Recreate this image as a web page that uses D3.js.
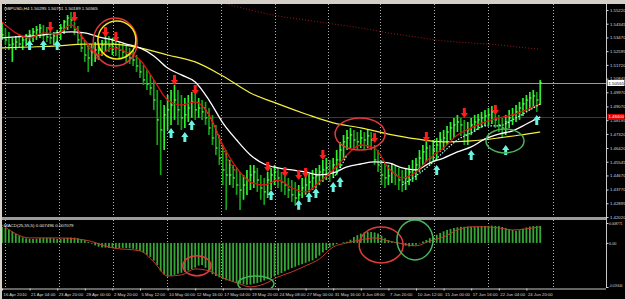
<!DOCTYPE html>
<html>
<head>
<meta charset="utf-8">
<script src="https://cdn.jsdelivr.net/npm/d3@7"></script>
<style>
  body { margin: 0; background: #000; }
  text { font-family: "Liberation Sans", Arial, sans-serif; }
</style>
</head>
<body>
<div class="chart"></div>
<script>
// ---- data (GBPUSD H4, one entry per two H4 bars) ----
var timeLabels = ["16 Apr 2010", "21 Apr 04:00", "23 Apr 20:00", "28 Apr 00:00", "2 May 20:00",
  "5 May 12:00", "10 May 00:00", "12 May 16:00", "17 May 04:00", "19 May 20:00", "24 May 08:00",
  "27 May 00:00", "31 May 16:00", "3 Jun 08:00", "7 Jun 20:00", "10 Jun 12:00", "15 Jun 00:00",
  "17 Jun 16:00", "22 Jun 04:00", "24 Jun 20:00"];
var labelBars = [0, 8, 16, 24, 32, 40, 48, 56, 64, 72, 80, 88, 96, 104, 112, 120, 128, 136, 144, 152];

var highs = [
  1.5446, 1.5407, 1.5382, 1.5344, 1.5356, 1.5363, 1.5356, 1.5369, 1.5395, 1.5407,
  1.5420, 1.5433, 1.5427, 1.5414, 1.5395, 1.5382, 1.5395, 1.5433, 1.5458, 1.5490,
  1.5509, 1.5446, 1.5420, 1.5382, 1.5331, 1.5299, 1.5299, 1.5318, 1.5305, 1.5331,
  1.5363, 1.5356, 1.5344, 1.5331, 1.5318, 1.5305, 1.5293, 1.5280, 1.5267, 1.5235,
  1.5203, 1.5171, 1.5140, 1.5108, 1.5076, 1.5012, 1.4948, 1.4916, 1.4980, 1.5012,
  1.5044, 1.5012, 1.4980, 1.4961, 1.4980, 1.4999, 1.4987, 1.4961, 1.4948, 1.4936,
  1.4897, 1.4853, 1.4789, 1.4725, 1.4661, 1.4629, 1.4566, 1.4534, 1.4515, 1.4489,
  1.4470, 1.4502, 1.4534, 1.4534, 1.4515, 1.4470, 1.4451, 1.4489, 1.4515, 1.4534,
  1.4515, 1.4489, 1.4470, 1.4451, 1.4438, 1.4425, 1.4406, 1.4451, 1.4464, 1.4476,
  1.4502, 1.4515, 1.4534, 1.4566, 1.4578, 1.4566, 1.4578, 1.4629, 1.4681, 1.4725,
  1.4757, 1.4770, 1.4757, 1.4744, 1.4757, 1.4744, 1.4757, 1.4744, 1.4661, 1.4629,
  1.4566, 1.4553, 1.4534, 1.4547, 1.4534, 1.4515, 1.4502, 1.4515, 1.4534, 1.4566,
  1.4578, 1.4629, 1.4661, 1.4693, 1.4661, 1.4693, 1.4706, 1.4744, 1.4757, 1.4783,
  1.4808, 1.4834, 1.4853, 1.4834, 1.4821, 1.4808, 1.4834, 1.4853, 1.4859, 1.4872,
  1.4885, 1.4897, 1.4910, 1.4885, 1.4853, 1.4834, 1.4853, 1.4885, 1.4897, 1.4916,
  1.4936, 1.4961, 1.4980, 1.4999, 1.5012, 1.4999, 1.5076];
var lows = [
  1.5331, 1.5299, 1.5267, 1.5191, 1.5267, 1.5280, 1.5267, 1.5293, 1.5305, 1.5318,
  1.5331, 1.5344, 1.5331, 1.5318, 1.5305, 1.5299, 1.5312, 1.5331, 1.5369, 1.5395,
  1.5407, 1.5363, 1.5299, 1.5254, 1.5191, 1.5127, 1.5165, 1.5191, 1.5203, 1.5229,
  1.5254, 1.5254, 1.5235, 1.5229, 1.5216, 1.5216, 1.5191, 1.5178, 1.5165, 1.5127,
  1.5089, 1.5044, 1.5012, 1.4980, 1.4885, 1.4661, 1.4470, 1.4629, 1.4757, 1.4789,
  1.4821, 1.4789, 1.4757, 1.4770, 1.4808, 1.4834, 1.4821, 1.4834, 1.4821, 1.4789,
  1.4725, 1.4661, 1.4598, 1.4534, 1.4406, 1.4247, 1.4406, 1.4387, 1.4343, 1.4247,
  1.4312, 1.4343, 1.4374, 1.4387, 1.4362, 1.4312, 1.4279, 1.4323, 1.4374, 1.4406,
  1.4387, 1.4362, 1.4343, 1.4323, 1.4298, 1.4273, 1.4312, 1.4323, 1.4343, 1.4362,
  1.4374, 1.4387, 1.4406, 1.4425, 1.4438, 1.4425, 1.4451, 1.4470, 1.4515, 1.4566,
  1.4629, 1.4642, 1.4629, 1.4629, 1.4642, 1.4629, 1.4642, 1.4629, 1.4534, 1.4489,
  1.4406, 1.4387, 1.4406, 1.4419, 1.4406, 1.4374, 1.4362, 1.4374, 1.4406, 1.4425,
  1.4438, 1.4489, 1.4534, 1.4553, 1.4534, 1.4553, 1.4566, 1.4617, 1.4629, 1.4661,
  1.4693, 1.4706, 1.4744, 1.4719, 1.4661, 1.4661, 1.4725, 1.4744, 1.4757, 1.4770,
  1.4783, 1.4789, 1.4795, 1.4770, 1.4744, 1.4706, 1.4725, 1.4770, 1.4789, 1.4808,
  1.4821, 1.4846, 1.4872, 1.4885, 1.4897, 1.4872, 1.4916];
var closes = [
  1.5363, 1.5331, 1.5299, 1.5305, 1.5318, 1.5305, 1.5331, 1.5344, 1.5363, 1.5382,
  1.5395, 1.5407, 1.5363, 1.5350, 1.5344, 1.5356, 1.5369, 1.5407, 1.5446, 1.5471,
  1.5458, 1.5395, 1.5331, 1.5280, 1.5235, 1.5216, 1.5254, 1.5267, 1.5267, 1.5299,
  1.5318, 1.5293, 1.5305, 1.5280, 1.5267, 1.5254, 1.5235, 1.5216, 1.5203, 1.5165,
  1.5127, 1.5076, 1.5050, 1.5025, 1.4948, 1.4821, 1.4757, 1.4853, 1.4885, 1.4916,
  1.4948, 1.4885, 1.4834, 1.4853, 1.4897, 1.4936, 1.4885, 1.4897, 1.4872, 1.4834,
  1.4770, 1.4706, 1.4642, 1.4578, 1.4502, 1.4470, 1.4470, 1.4451, 1.4406, 1.4374,
  1.4406, 1.4438, 1.4470, 1.4489, 1.4438, 1.4387, 1.4362, 1.4438, 1.4470, 1.4489,
  1.4451, 1.4425, 1.4406, 1.4374, 1.4343, 1.4323, 1.4343, 1.4387, 1.4406, 1.4425,
  1.4451, 1.4464, 1.4489, 1.4502, 1.4515, 1.4489, 1.4534, 1.4566, 1.4629, 1.4681,
  1.4706, 1.4725, 1.4693, 1.4681, 1.4706, 1.4693, 1.4719, 1.4693, 1.4566, 1.4534,
  1.4470, 1.4451, 1.4464, 1.4489, 1.4470, 1.4438, 1.4425, 1.4451, 1.4489, 1.4502,
  1.4534, 1.4578, 1.4617, 1.4642, 1.4578, 1.4629, 1.4661, 1.4693, 1.4706, 1.4744,
  1.4770, 1.4789, 1.4808, 1.4789, 1.4725, 1.4757, 1.4789, 1.4808, 1.4821, 1.4834,
  1.4846, 1.4853, 1.4872, 1.4821, 1.4789, 1.4770, 1.4808, 1.4834, 1.4853, 1.4872,
  1.4897, 1.4923, 1.4948, 1.4961, 1.4974, 1.4948, 1.5057];

// moving averages, read every 4 bars
var maBars = [0, 4, 8, 12, 16, 20, 24, 28, 32, 36, 40, 44, 48, 52, 56, 60, 64, 68, 72, 76,
  80, 84, 88, 92, 96, 100, 104, 108, 112, 116, 120, 124, 128, 132, 136, 140, 144, 148, 152, 156];
var whiteMA = [1.5344, 1.5350, 1.5356, 1.5363, 1.5376, 1.5382, 1.5376, 1.5350, 1.5331, 1.5305,
  1.5280, 1.5229, 1.5152, 1.5108, 1.5063, 1.4948, 1.4802, 1.4693, 1.4598, 1.4540,
  1.4515, 1.4502, 1.4489, 1.4470, 1.4483, 1.4521, 1.4540, 1.4553, 1.4547, 1.4515,
  1.4502, 1.4547, 1.4578, 1.4617, 1.4649, 1.4700, 1.4731, 1.4751, 1.4795, 1.4840];
var redMA = [1.5446, 1.5376, 1.5344, 1.5376, 1.5369, 1.5427, 1.5331, 1.5235, 1.5280, 1.5254,
  1.5203, 1.5076, 1.4948, 1.4916, 1.4936, 1.4853, 1.4661, 1.4515, 1.4425, 1.4406,
  1.4438, 1.4387, 1.4362, 1.4425, 1.4502, 1.4598, 1.4661, 1.4642, 1.4515, 1.4451,
  1.4489, 1.4578, 1.4642, 1.4725, 1.4770, 1.4808, 1.4834, 1.4853, 1.4885, 1.4923];

var yellowBars = [0, 8, 16, 24, 32, 40, 48, 56, 64, 72, 80, 88, 96, 104, 112, 120, 128, 136, 144, 152, 156];
var yellowMA = [1.5280, 1.5286, 1.5293, 1.5305, 1.5305, 1.5280, 1.5235, 1.5191, 1.5101, 1.4993,
  1.4923, 1.4859, 1.4802, 1.4770, 1.4731, 1.4700, 1.4681, 1.4687, 1.4706, 1.4731, 1.4744];

var longBars = [64, 72, 80, 88, 96, 104, 112, 120, 128, 136, 144, 152, 156];
var longMA = [1.5567, 1.5522, 1.5484, 1.5458, 1.5433, 1.5407, 1.5376, 1.5350, 1.5325, 1.5312,
  1.5299, 1.5280, 1.5273];

// dotted trailing-stop traces (null = no trace there)
var redTrailBars = [22, 24, 26, 28, 30, 58, 60, 62, 64, 66, 68];
var redTrail = [1.5395, 1.5318, 1.5254, 1.5203, null, 1.4916, 1.4853, 1.4757, 1.4642, 1.4547, 1.4489];
var cyanTrailBars = [96, 98, 100, 102, 116, 120, 124, 128, 132, 136, 140, 144, 148, 152, 156];
var cyanTrail = [1.4451, 1.4515, 1.4598, null, 1.4406, 1.4464, 1.4534, 1.4617, 1.4693, 1.4738,
  1.4783, 1.4783, 1.4821, 1.4872, 1.4923];

// signal arrows
var sellBars = [14, 21, 30, 33, 50, 56, 77, 82, 86, 88, 93, 108, 123, 134, 143];
var sellPrices = [1.5446, 1.5509, 1.5414, 1.5382, 1.5108, 1.5044, 1.4553, 1.4521, 1.4502, 1.4515,
  1.4629, 1.4738, 1.4744, 1.4897, 1.4916];
var buyBars = [8, 12, 16, 49, 53, 55, 78, 86, 89, 91, 96, 98, 126, 136, 146, 155];
var buyPrices = [1.5331, 1.5331, 1.5331, 1.4770, 1.4744, 1.4821, 1.4374, 1.4312, 1.4362, 1.4387,
  1.4425, 1.4457, 1.4534, 1.4629, 1.4661, 1.4853];

// horizontal levels
var bidPrice = 1.50565;
var levelPrice = 1.48400;
var priceTicks = [1.55220, 1.54345, 1.53470, 1.52595, 1.51720, 1.50845, 1.49970, 1.49070,
  1.48195, 1.47320, 1.46420, 1.45545, 1.44670, 1.43770, 1.42895, 1.42020];
var gridBars = [0.9, 16.5, 32.2, 47.8, 63.5, 79.1, 94.5, 109.6, 125.2, 140.9, 159.7];

// MACD main (histogram), one per bar
var macdMain = [
  0.0071, 0.0066, 0.0059, 0.0050, 0.0040, 0.0031, 0.0024, 0.0020, 0.0018, 0.0017,
  0.0018, 0.0020, 0.0021, 0.0021, 0.0022, 0.0020, 0.0018, 0.0018, 0.0020, 0.0023,
  0.0024, 0.0023, 0.0021, 0.0017, 0.0012, 0.0004, -0.0004, -0.0011, -0.0017, -0.0020,
  -0.0021, -0.0022, -0.0022, -0.0023, -0.0023, -0.0022, -0.0023, -0.0024, -0.0026, -0.0030,
  -0.0036, -0.0043, -0.0052, -0.0062, -0.0078, -0.0098, -0.0125, -0.0140, -0.0148, -0.0146,
  -0.0141, -0.0136, -0.0132, -0.0128, -0.0122, -0.0115, -0.0109, -0.0100, -0.0098, -0.0110,
  -0.0126, -0.0138, -0.0146, -0.0152, -0.0160, -0.0165, -0.0168, -0.0171, -0.0176, -0.0180,
  -0.0183, -0.0185, -0.0184, -0.0180, -0.0177, -0.0172, -0.0166, -0.0160, -0.0155, -0.0148,
  -0.0140, -0.0133, -0.0125, -0.0118, -0.0111, -0.0105, -0.0099, -0.0094, -0.0088, -0.0082,
  -0.0077, -0.0068, -0.0056, -0.0042, -0.0032, -0.0020, -0.0012, -0.0005, 0.0000, 0.0003,
  0.0005, 0.0014, 0.0026, 0.0034, 0.0041, 0.0046, 0.0049, 0.0048, 0.0046, 0.0041,
  0.0032, 0.0020, 0.0012, 0.0006, 0.0002, -0.0001, -0.0006, -0.0012, -0.0016, -0.0014,
  -0.0008, -0.0002, 0.0006, 0.0013, 0.0021, 0.0028, 0.0036, 0.0044, 0.0051, 0.0057,
  0.0062, 0.0066, 0.0069, 0.0071, 0.0071, 0.0072, 0.0071, 0.0071, 0.0072, 0.0073,
  0.0074, 0.0075, 0.0076, 0.0075, 0.0074, 0.0070, 0.0066, 0.0061, 0.0057, 0.0054,
  0.0056, 0.0062, 0.0068, 0.0072, 0.0074, 0.0075, 0.0075];
var signalBars = [0, 8, 16, 24, 32, 40, 44, 48, 52, 56, 60, 64, 68, 72, 76, 80, 84, 88, 92, 96,
  100, 104, 108, 112, 116, 120, 124, 128, 132, 136, 140, 144, 148, 152, 156];
var macdSignal = [0.0079, 0.0022, 0.0022, 0.0013, -0.0022, -0.0035, -0.0084, -0.0146, -0.0141, -0.0115,
  -0.0123, -0.0154, -0.0176, -0.0194, -0.0181, -0.0150, -0.0128, -0.0101, -0.0071, -0.0018,
  0.0000, 0.0013, 0.0022, 0.0009, -0.0004, -0.0013, 0.0009, 0.0026, 0.0057, 0.0071,
  0.0071, 0.0066, 0.0057, 0.0062, 0.0071];
var macdTicks = [0.008771, 0, -0.019444];
var macdTickText = ["0.008771", "0.00", "-0.019444"];

// hand-drawn marks on the chart (centres in bar / value units)
var priceMarkBars = [32.8, 33.3, 103.8, 145.8];
var priceMarkPrices = [1.5318, 1.5331, 1.4731, 1.4687];
var macdMarkBars = [56.5, 73.6, 109.9, 119.7];
var macdMarkValues = [-0.0101, -0.0181, -0.0009, 0.0013];

// ---- drawing ----
var svgWidth = 625;
var svgHeight = 299;

var svg = d3.select(".chart")
  .append("svg")
  .attr("width", svgWidth)
  .attr("height", svgHeight)
  .style("display", "block")
  .style("background", "#000");

// window frame and panel splitter
svg.append("rect").attr("x", 0).attr("y", 0).attr("width", svgWidth).attr("height", 4).attr("fill", "#d4d0c8");
svg.append("rect").attr("x", 0).attr("y", 0).attr("width", 2).attr("height", svgHeight).attr("fill", "#d4d0c8");
svg.append("rect").attr("x", 2).attr("y", 217).attr("width", 604).attr("height", 3).attr("fill", "#9c9c9c");

// scales
var xScale = d3.scaleLinear().domain([0, 156]).range([2, 540.2]);
var yScale = d3.scaleLinear().domain([1.42020, 1.55220]).range([217, 10]);
var mScale = d3.scaleLinear().domain([-0.019444, 0.008771]).range([287, 223]);

var defs = svg.append("defs");
defs.append("clipPath").attr("id", "mainClip")
  .append("rect").attr("x", 2).attr("y", 4).attr("width", 604).attr("height", 212);
defs.append("clipPath").attr("id", "macdClip")
  .append("rect").attr("x", 2).attr("y", 220).attr("width", 604).attr("height", 68);

var mainG = svg.append("g").attr("clip-path", "url(#mainClip)");
var macdG = svg.append("g").attr("clip-path", "url(#macdClip)");

// dotted vertical grid
[[mainG, 4, 216], [macdG, 220, 288]].forEach(function (p) {
  p[0].selectAll(".vgrid").data(gridBars).enter().append("line")
    .attr("x1", d => Math.round(xScale(d)) + 0.5)
    .attr("x2", d => Math.round(xScale(d)) + 0.5)
    .attr("y1", p[1]).attr("y2", p[2])
    .attr("stroke", "#b0b0b0").attr("stroke-width", 1)
    .attr("stroke-dasharray", "1,2");
});

// bid line and level line
mainG.append("line")
  .attr("x1", 2).attr("x2", 606)
  .attr("y1", Math.round(yScale(bidPrice)) + 0.5).attr("y2", Math.round(yScale(bidPrice)) + 0.5)
  .attr("stroke", "#9a9a9a").attr("stroke-width", 1);
mainG.append("line")
  .attr("x1", 2).attr("x2", 606)
  .attr("y1", Math.round(yScale(levelPrice)) + 0.5).attr("y2", Math.round(yScale(levelPrice)) + 0.5)
  .attr("stroke", "#9a1010").attr("stroke-width", 1);

// slow lines under the bars
function lineOf(bars, vals, scale) {
  return d3.line()
    .defined(d => d[1] !== null)
    .x(d => xScale(d[0]))
    .y(d => scale(d[1]))
    .curve(d3.curveMonotoneX)(d3.zip(bars, vals));
}

mainG.append("path")
  .attr("d", lineOf(longBars, longMA, yScale))
  .attr("fill", "none").attr("stroke", "#a01818").attr("stroke-width", 1)
  .attr("stroke-dasharray", "1,2");

// price bars
var barGroup = mainG.selectAll(".bar").data(closes).enter().append("g");
barGroup.append("line")
  .attr("x1", (d, i) => xScale(i)).attr("x2", (d, i) => xScale(i))
  .attr("y1", (d, i) => yScale(highs[i])).attr("y2", (d, i) => yScale(lows[i]))
  .attr("stroke", (d, i) => (i > 0 && d < closes[i - 1]) ? "#16a316" : "#2cf02c")
  .attr("stroke-width", 1.7);
barGroup.append("line")
  .attr("x1", (d, i) => xScale(i)).attr("x2", (d, i) => xScale(i) + 1.8)
  .attr("y1", d => yScale(d)).attr("y2", d => yScale(d))
  .attr("stroke", "#9cff9c").attr("stroke-width", 1);

// moving averages
mainG.append("path")
  .attr("d", lineOf(yellowBars, yellowMA, yScale))
  .attr("fill", "none").attr("stroke", "#f4f040").attr("stroke-width", 1.2);
mainG.append("path")
  .attr("d", lineOf(maBars, whiteMA, yScale))
  .attr("fill", "none").attr("stroke", "#ffffff").attr("stroke-width", 1.3);
mainG.append("path")
  .attr("d", lineOf(maBars, redMA, yScale))
  .attr("fill", "none").attr("stroke", "#e01010").attr("stroke-width", 1.3);

// trailing traces
mainG.append("path")
  .attr("d", lineOf(redTrailBars, redTrail, yScale))
  .attr("fill", "none").attr("stroke", "#ff3030").attr("stroke-width", 1.3)
  .attr("stroke-dasharray", "1.5,1.5");
mainG.append("path")
  .attr("d", lineOf(cyanTrailBars, cyanTrail, yScale))
  .attr("fill", "none").attr("stroke", "#a8fff2").attr("stroke-width", 1.2)
  .attr("stroke-dasharray", "1.5,1.5");

// arrows
mainG.selectAll(".sell").data(sellBars).enter().append("path")
  .attr("transform", (d, i) => `translate(${xScale(d)}, ${yScale(sellPrices[i])})`)
  .attr("d", "M-1.5,0 L1.5,0 L1.5,5 L3.6,5 L0,10 L-3.6,5 L-1.5,5 Z")
  .attr("fill", "#ff1c1c");
mainG.selectAll(".buy").data(buyBars).enter().append("path")
  .attr("transform", (d, i) => `translate(${xScale(d)}, ${yScale(buyPrices[i])})`)
  .attr("d", "M0,0 L3.6,5 L1.5,5 L1.5,10 L-1.5,10 L-1.5,5 L-3.6,5 Z")
  .attr("fill", "#6cf2e0");

// hand-drawn marks on the price panel
var markShape = [[22, 24, "#e03a3a"], [19, 19, "#f2e61e"], [25, 16, "#e03a3a"], [19, 12, "#49b35a"]];
mainG.selectAll(".mark").data(priceMarkBars).enter().append("ellipse")
  .attr("cx", d => xScale(d))
  .attr("cy", (d, i) => yScale(priceMarkPrices[i]))
  .attr("rx", (d, i) => markShape[i][0])
  .attr("ry", (d, i) => markShape[i][1])
  .attr("fill", "none")
  .attr("stroke", (d, i) => markShape[i][2])
  .attr("stroke-width", 1.5);

// MACD histogram + signal
macdG.selectAll(".hist").data(macdMain).enter().append("line")
  .attr("x1", (d, i) => xScale(i)).attr("x2", (d, i) => xScale(i))
  .attr("y1", mScale(0)).attr("y2", d => mScale(d))
  .attr("stroke", "#36a836").attr("stroke-width", 1.8);
macdG.append("path")
  .attr("d", lineOf(signalBars, macdSignal, mScale))
  .attr("fill", "none").attr("stroke", "#c23a2a").attr("stroke-width", 1);

var macdShape = [[14, 10, "#e03a3a"], [18, 8, "#49b35a"], [22, 18, "#e03a3a"], [18, 20, "#49b35a"]];
macdG.selectAll(".mmark").data(macdMarkBars).enter().append("ellipse")
  .attr("cx", d => xScale(d))
  .attr("cy", (d, i) => mScale(macdMarkValues[i]))
  .attr("rx", (d, i) => macdShape[i][0])
  .attr("ry", (d, i) => macdShape[i][1])
  .attr("fill", "none")
  .attr("stroke", (d, i) => macdShape[i][2])
  .attr("stroke-width", 1.5);

// right-hand price axis
var axisColor = "#d8d8d8";
svg.append("line").attr("x1", 606.5).attr("x2", 606.5).attr("y1", 4).attr("y2", 288)
  .attr("stroke", "#c8c8c8").attr("stroke-width", 1);

var yAxis = d3.axisRight(yScale).tickValues(priceTicks).tickSize(2).tickSizeOuter(0)
  .tickFormat(d3.format(".5f"));
var yAxisG = svg.append("g").attr("transform", "translate(606.5, 0)").call(yAxis);
yAxisG.select(".domain").remove();
yAxisG.selectAll("line").attr("stroke", axisColor);
yAxisG.selectAll("text").attr("x", 3.5).attr("fill", axisColor)
  .style("font-size", "4.3px");

var mAxis = d3.axisRight(mScale).tickValues(macdTicks).tickSize(2).tickSizeOuter(0)
  .tickFormat((d, i) => macdTickText[i]);
var mAxisG = svg.append("g").attr("transform", "translate(606.5, 0)").call(mAxis);
mAxisG.select(".domain").remove();
mAxisG.selectAll("line").attr("stroke", axisColor);
mAxisG.selectAll("text").attr("x", 2.5).attr("fill", axisColor)
  .style("font-size", "3.8px")
  .attr("dy", (d, i) => i === 2 ? "-0.2em" : "0.32em")
  .attr("textLength", (d, i) => macdTickText[i].length > 5 ? 13.5 : null)
  .attr("lengthAdjust", "spacingAndGlyphs");

// price boxes on the axis
var boxes = [[bidPrice, "#ffffff", "#000000"], [levelPrice, "#e00000", "#ffffff"]];
boxes.forEach(function (b) {
  var by = yScale(b[0]);
  svg.append("rect").attr("x", 607.5).attr("y", by - 3).attr("width", 17).attr("height", 6).attr("fill", b[1]);
  svg.append("text").attr("x", 608.5).attr("y", by).attr("dy", "0.35em")
    .attr("fill", b[2]).style("font-size", "4.3px")
    .text(d3.format(".5f")(b[0]));
});

// time axis
var xAxis = d3.axisBottom(xScale).tickValues(labelBars).tickSize(2).tickSizeOuter(0)
  .tickFormat((d, i) => timeLabels[i]);
var xAxisG = svg.append("g").attr("transform", "translate(0, 288.5)").call(xAxis);
xAxisG.select(".domain").attr("stroke", "#c8c8c8").attr("d", "M2,0.5H606");
xAxisG.selectAll("line").attr("stroke", axisColor);
xAxisG.selectAll("text").attr("text-anchor", "start").attr("x", 1).attr("y", 4).attr("dy", "0.71em")
  .attr("fill", axisColor).style("font-size", "4.3px");

// panel captions
svg.append("text").attr("x", 4).attr("y", 10)
  .attr("fill", "#e8e8e8").style("font-size", "4.4px")
  .text("GBPUSD,H4  1.50295 1.50761 1.50189 1.50565");
svg.append("text").attr("x", 4).attr("y", 227)
  .attr("fill", "#e8e8e8").style("font-size", "4.4px")
  .text("MACD(25,55,5) 0.007496 0.007079");
</script>
</body>
</html>
